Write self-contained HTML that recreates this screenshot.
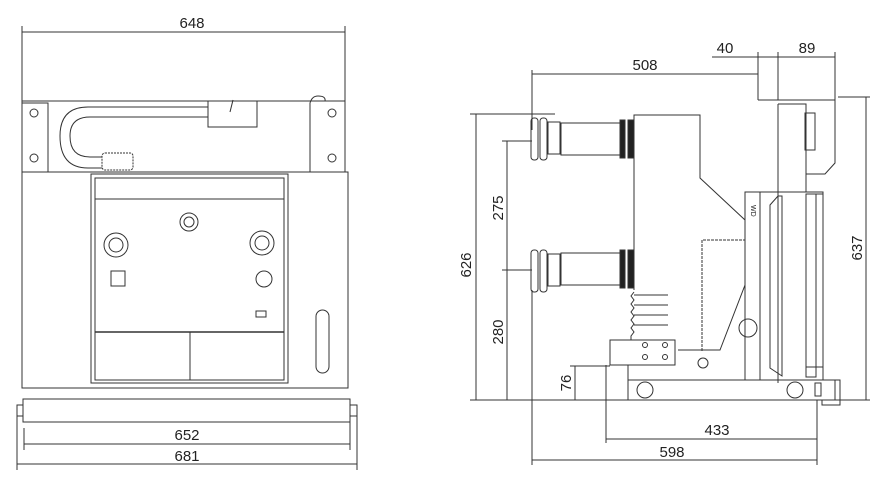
<!DOCTYPE html>
<html><head><meta charset="utf-8"><style>
html,body{margin:0;padding:0;background:#fff}
svg{display:block}
text{font-family:"Liberation Sans",sans-serif;font-size:15px;fill:#222}
</style></head><body>
<svg width="885" height="489" viewBox="0 0 885 489" xmlns="http://www.w3.org/2000/svg">
<g fill="none" stroke="#333" stroke-width="1">
<!-- LEFT VIEW -->
<line x1="22" y1="32" x2="345" y2="32"/>
<line x1="22" y1="26" x2="22" y2="101"/>
<line x1="345" y1="26" x2="345" y2="101"/>
<rect x="22" y="101" width="323" height="71"/>
<rect x="22" y="103" width="26" height="69"/>
<circle cx="34" cy="113" r="4"/><circle cx="34" cy="158" r="4"/>
<path d="M310 172 V103 Q312 96 318 96 Q326 96 325 101"/>
<circle cx="332" cy="113" r="4"/><circle cx="332" cy="158" r="4"/>
<path d="M208 107 H88 Q60 107 60 136 Q60 168 88 168 H102"/>
<path d="M208 117 H90 Q70 117 70 136 Q70 157 90 157 H102"/>
<rect x="208" y="101" width="49" height="26"/>
<path d="M233 100 L230 112"/>
<rect x="102" y="153" width="31" height="17" rx="3" stroke-dasharray="2 1"/>
<rect x="22" y="172" width="326" height="216"/>
<rect x="91" y="174" width="197" height="209"/>
<rect x="95" y="178" width="189" height="202"/>
<line x1="95" y1="199" x2="284" y2="199"/>
<line x1="95" y1="332" x2="284" y2="332" stroke-width="1.5"/>
<line x1="190" y1="332" x2="190" y2="380"/>
<circle cx="189" cy="222" r="9"/><circle cx="189" cy="222" r="5"/>
<circle cx="116" cy="245" r="12"/><circle cx="116" cy="245" r="7"/>
<circle cx="262" cy="243" r="12"/><circle cx="262" cy="243" r="7"/>
<rect x="111" y="271" width="14" height="15"/>
<circle cx="264" cy="279" r="8"/>
<rect x="256" y="311" width="10" height="6"/>
<rect x="316" y="310" width="13" height="63" rx="6.5"/>
<rect x="23" y="399" width="327" height="23"/>
<rect x="17" y="405" width="6" height="11"/>
<rect x="350" y="405" width="7" height="11"/>
<line x1="24" y1="444" x2="350" y2="444"/>
<line x1="24" y1="428" x2="24" y2="450"/>
<line x1="350" y1="422" x2="350" y2="450"/>
<line x1="17" y1="464" x2="357" y2="464"/>
<line x1="17" y1="416" x2="17" y2="470"/>
<line x1="357" y1="416" x2="357" y2="470"/>

<!-- RIGHT VIEW dims -->
<line x1="532" y1="74" x2="758" y2="74"/>
<line x1="532" y1="70" x2="532" y2="130"/>
<line x1="712" y1="57" x2="835" y2="57"/>
<line x1="758" y1="52" x2="758" y2="100"/>
<line x1="778" y1="52" x2="778" y2="100"/>
<line x1="835" y1="52" x2="835" y2="100"/>
<rect x="758" y="50" width="77" height="50" stroke="none"/>
<line x1="758" y1="100" x2="835" y2="100"/>
<line x1="838" y1="97" x2="870" y2="97"/>
<line x1="866" y1="97" x2="866" y2="400"/>
<line x1="470" y1="114" x2="555" y2="114"/>
<line x1="476" y1="114" x2="476" y2="400"/>
<line x1="502" y1="141" x2="532" y2="141"/>
<line x1="507" y1="141" x2="507" y2="400"/>
<line x1="502" y1="270" x2="532" y2="270"/>
<line x1="570" y1="366" x2="610" y2="366"/>
<line x1="575" y1="366" x2="575" y2="400"/>
<line x1="470" y1="400" x2="870" y2="400"/>
<line x1="606" y1="439" x2="817" y2="439"/>
<line x1="532" y1="460" x2="817" y2="460"/>
<line x1="606" y1="365" x2="606" y2="443"/>
<line x1="532" y1="290" x2="532" y2="465"/>
<line x1="817" y1="400" x2="817" y2="465"/>

<!-- body -->
<path d="M634 290 V115 H700 V178 L745 220 V285 L720 350 H678"/>
<path d="M702 351 V240 H745" stroke-dasharray="3 1"/>
<path d="M778 104 V383"/>
<path d="M778 100 H835 V163 L825 174 H806 V104 H778"/>
<rect x="805" y="113" width="10" height="37"/>
<line x1="806" y1="174" x2="806" y2="192"/>
<rect x="745" y="192" width="78" height="188"/>
<line x1="760" y1="192" x2="760" y2="380"/>
<path d="M770 205 L778 196 H782 V376 L770 368 Z"/>
<rect x="806" y="194" width="17" height="173"/>
<rect x="806" y="194" width="10" height="183"/>
<text x="0" y="0" transform="translate(751,205) rotate(90)" style="font-size:7px" stroke="none">WD</text>
<!-- bushings -->
<rect x="561" y="123" width="59" height="32"/>
<rect x="620" y="120" width="5" height="38" fill="#222"/>
<rect x="628" y="120" width="6" height="38" fill="#222"/>
<rect x="531" y="118" width="7" height="42" rx="3"/>
<rect x="540" y="118" width="7" height="42" rx="3"/>
<rect x="548" y="122" width="12" height="32"/>
<rect x="561" y="253" width="59" height="32"/>
<rect x="620" y="250" width="5" height="38" fill="#222"/>
<rect x="628" y="250" width="6" height="38" fill="#222"/>
<rect x="531" y="250" width="7" height="42" rx="3"/>
<rect x="540" y="250" width="7" height="42" rx="3"/>
<rect x="548" y="254" width="12" height="32"/>
<path d="M634 292 l-3 4 l3 4 l-3 4 l3 4 l-3 4 l3 4 l-3 4 l3 4 l-3 4 l3 4 l-3 4 V340"/>
<line x1="634" y1="295" x2="668" y2="295"/><line x1="634" y1="305" x2="668" y2="305"/>
<line x1="634" y1="315" x2="668" y2="315"/><line x1="634" y1="325" x2="668" y2="325"/>
<rect x="610" y="340" width="65" height="25"/>
<circle cx="645" cy="345" r="2.5"/><circle cx="665" cy="345" r="2.5"/>
<circle cx="645" cy="357" r="2.5"/><circle cx="665" cy="357" r="2.5"/>
<circle cx="703" cy="363" r="5"/>
<circle cx="748" cy="328" r="9"/>
<line x1="628" y1="365" x2="628" y2="400"/>
<rect x="628" y="380" width="207" height="20"/>
<circle cx="645" cy="390" r="8"/><circle cx="795" cy="390" r="8"/>
<rect x="815" y="383" width="6" height="13"/>
<path d="M835 380 h5 v25 h-18 v-5"/>
</g>
<text x="192" y="28" text-anchor="middle">648</text>
<text x="187" y="440" text-anchor="middle">652</text>
<text x="187" y="461" text-anchor="middle">681</text>
<text x="645" y="70" text-anchor="middle">508</text>
<text x="725" y="53" text-anchor="middle">40</text>
<text x="807" y="53" text-anchor="middle">89</text>
<text x="717" y="435" text-anchor="middle">433</text>
<text x="672" y="457" text-anchor="middle">598</text>
<text transform="translate(471,265) rotate(-90)" text-anchor="middle">626</text>
<text transform="translate(503,208) rotate(-90)" text-anchor="middle">275</text>
<text transform="translate(503,332) rotate(-90)" text-anchor="middle">280</text>
<text transform="translate(571,383) rotate(-90)" text-anchor="middle">76</text>
<text transform="translate(862,248) rotate(-90)" text-anchor="middle">637</text>
</svg>
</body></html>
